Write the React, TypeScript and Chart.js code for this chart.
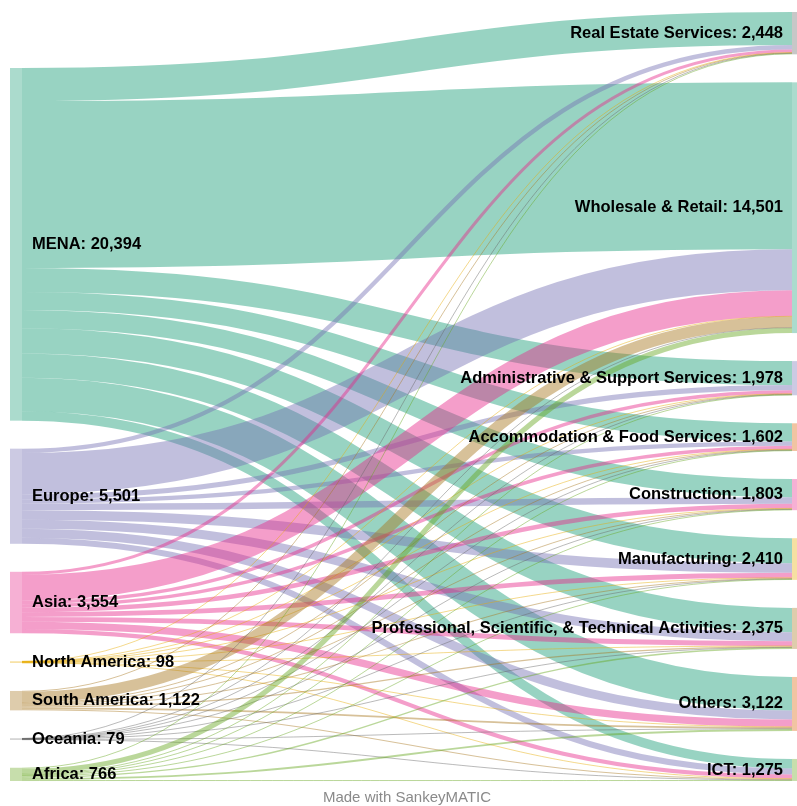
import React, { useEffect, useRef } from "react";
import { Chart, registerables } from "chart.js";

Chart.register(...registerables);

// ---- Data ----
const SOURCES = ["MENA", "Europe", "Asia", "North America", "South America", "Oceania", "Africa"];
const SOURCE_COLORS = ["#1b9e77", "#7570b3", "#e7298a", "#e6ab02", "#a6761d", "#666666", "#66a61e"];

const TARGETS = [
  "Real Estate Services",
  "Wholesale & Retail",
  "Administrative & Support Services",
  "Accommodation & Food Services",
  "Construction",
  "Manufacturing",
  "Professional, Scientific, & Technical Activities",
  "Others",
  "ICT",
];
const TARGET_COLORS = ["#666666", "#1b9e77", "#7570b3", "#d95f02", "#e7298a", "#e6ab02", "#a6761d", "#d95f02", "#66a61e"];

// flows from each source to the targets (same order as TARGETS)
const FROM_MENA = [1914, 9649, 1389, 1048, 1055, 1454, 1403, 1935, 547];
const FROM_EUROPE = [250, 2381, 300, 250, 380, 550, 520, 520, 350];
const FROM_ASIA = [180, 1494, 200, 200, 260, 280, 280, 420, 240];
const FROM_NORTH_AMERICA = [5, 15, 8, 8, 10, 12, 12, 18, 10];
const FROM_SOUTH_AMERICA = [40, 650, 40, 50, 50, 60, 70, 100, 62];
const FROM_OCEANIA = [4, 12, 6, 6, 8, 9, 10, 14, 10];
const FROM_AFRICA = [55, 300, 35, 40, 40, 45, 80, 115, 56];

const FLOWS = [FROM_MENA, FROM_EUROPE, FROM_ASIA, FROM_NORTH_AMERICA, FROM_SOUTH_AMERICA, FROM_OCEANIA, FROM_AFRICA];

const FOOTER = "Made with SankeyMATIC";

// ---- Layout / style settings ----
const GAP = 1620; // node padding in value units
const NODE_W = 12;
const LINK_ALPHA = 0.45;
const NODE_ALPHA = 0.37;
const LABEL_FONT = "bold 16.5px 'Liberation Sans', Arial, sans-serif";
const FOOTER_FONT = "15px 'Liberation Sans', Arial, sans-serif";

const sum = (a: number[]) => a.reduce((s, v) => s + v, 0);
const sourceTotals = FLOWS.map((f) => sum(f));
const targetTotals = TARGETS.map((_, j) => sum(FLOWS.map((f) => f[j])));
const TOTAL = sum(targetTotals);
const MAX_Y = TOTAL + (TARGETS.length - 1) * GAP;

function rgba(hex: string, a: number) {
  const n = parseInt(hex.slice(1), 16);
  return `rgba(${(n >> 16) & 255},${(n >> 8) & 255},${n & 255},${a})`;
}
const fmt = (v: number) => v.toLocaleString("en-US");

const sankeyPlugin = {
  id: "sankeyDraw",
  afterDatasetsDraw(chart: any) {
    const { ctx, scales, chartArea } = chart;
    const xs = scales.x;
    const ys = scales.y;
    const py = (v: number) => ys.getPixelForValue(v);
    const k = Math.abs(py(1) - py(0));

    // node starts (value units)
    const tStart: number[] = [];
    let acc = 0;
    targetTotals.forEach((t) => {
      tStart.push(acc);
      acc += t + GAP;
    });
    const leftSpan = sum(sourceTotals) + (SOURCES.length - 1) * GAP;
    const sStart: number[] = [];
    acc = MAX_Y - leftSpan;
    sourceTotals.forEach((t) => {
      sStart.push(acc);
      acc += t + GAP;
    });

    const xL = xs.getPixelForValue(0);
    const xR = xs.getPixelForValue(1);
    const x0 = xL + NODE_W;
    const x1 = xR;
    const xm = (x0 + x1) / 2;

    // links
    const tOffset = targetTotals.map(() => 0);
    ctx.save();
    ctx.lineCap = "butt";
    FLOWS.forEach((row, i) => {
      let sOff = 0;
      row.forEach((v, j) => {
        if (v <= 0) return;
        const sy = py(sStart[i] + sOff + v / 2);
        const ty = py(tStart[j] + tOffset[j] + v / 2);
        sOff += v;
        tOffset[j] += v;
        ctx.beginPath();
        ctx.moveTo(x0, sy);
        ctx.bezierCurveTo(xm, sy, xm, ty, x1, ty);
        ctx.strokeStyle = rgba(SOURCE_COLORS[i], LINK_ALPHA);
        ctx.lineWidth = Math.max(v * k, 1);
        ctx.stroke();
      });
    });

    // nodes
    SOURCES.forEach((_, i) => {
      const top = py(sStart[i]);
      const h = Math.max(sourceTotals[i] * k, 1);
      ctx.fillStyle = rgba(SOURCE_COLORS[i], NODE_ALPHA);
      ctx.fillRect(xL, top, NODE_W, h);
    });
    TARGETS.forEach((_, j) => {
      const top = py(tStart[j]);
      const h = Math.max(targetTotals[j] * k, 1);
      ctx.fillStyle = rgba(TARGET_COLORS[j], NODE_ALPHA);
      ctx.fillRect(xR, top, NODE_W, h);
    });

    // labels
    ctx.font = LABEL_FONT;
    ctx.fillStyle = "#000";
    ctx.textBaseline = "middle";
    ctx.textAlign = "left";
    SOURCES.forEach((name, i) => {
      const cy = py(sStart[i] + sourceTotals[i] / 2);
      ctx.fillText(`${name}: ${fmt(sourceTotals[i])}`, x0 + 10, cy);
    });
    ctx.textAlign = "right";
    TARGETS.forEach((name, j) => {
      const cy = py(tStart[j] + targetTotals[j] / 2);
      ctx.fillText(`${name}: ${fmt(targetTotals[j])}`, x1 - 9, cy);
    });

    // footer
    ctx.font = FOOTER_FONT;
    ctx.fillStyle = "#8a8a8a";
    ctx.textAlign = "center";
    ctx.fillText(FOOTER, (xL + xR + NODE_W) / 2, chartArea.bottom + 17);
    ctx.restore();
  },
};

export default function App() {
  const canvasRef = useRef<HTMLCanvasElement | null>(null);

  useEffect(() => {
    if (!canvasRef.current) return;
    const chart = new Chart(canvasRef.current, {
      type: "scatter",
      data: { datasets: [{ data: [] }] },
      options: {
        animation: false,
        responsive: true,
        maintainAspectRatio: false,
        layout: { padding: { left: 10, right: 0, top: 12, bottom: 25 } },
        scales: {
          x: { type: "linear", min: 0, max: 1.0064, display: false },
          y: { type: "linear", min: 0, max: MAX_Y, reverse: true, display: false },
        },
        plugins: { legend: { display: false }, tooltip: { enabled: false } },
      },
      plugins: [sankeyPlugin],
    } as any);
    return () => chart.destroy();
  }, []);

  return (
    <div style={{ position: "absolute", left: 0, top: 0, width: 797, height: 806, background: "#fff" }}>
      <canvas ref={canvasRef} />
    </div>
  );
}
